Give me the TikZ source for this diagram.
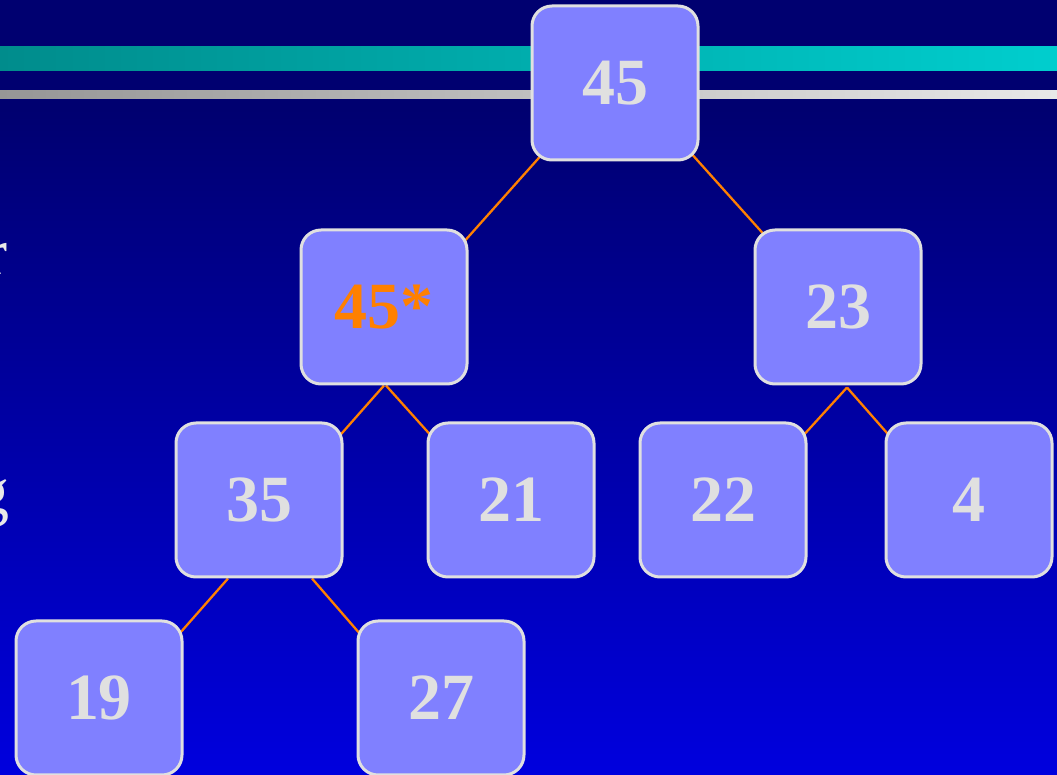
\documentclass[tikz,border=0pt]{standalone}
\usepackage{fontspec}
\setmainfont{Liberation Serif}
\usepackage{xcolor}

\definecolor{navy}{RGB}{0,0,112}
\definecolor{deepblue}{RGB}{0,0,222}
\definecolor{tealdark}{RGB}{0,140,140}
\definecolor{teallight}{RGB}{0,206,206}
\definecolor{greydark}{RGB}{150,150,150}
\definecolor{greylight}{RGB}{232,232,232}
\definecolor{keyfill}{RGB}{128,128,255}
\definecolor{keyline}{RGB}{224,224,224}
\definecolor{linkorange}{RGB}{255,128,0}

\pgfdeclarelayer{slide}
\pgfdeclarelayer{links}
\pgfsetlayers{slide,links,main}

\begin{document}
\begin{tikzpicture}[x=0.5pt,y=-0.5pt,
  keybox/.style={draw=keyline,line width=1.5pt,fill=keyfill,rounded corners=10pt,
    minimum width=83pt,minimum height=77pt,inner sep=0pt,text=keyline,
    font=\fontsize{33pt}{36pt}\selectfont\bfseries},
  link/.style={draw=linkorange,line width=1.15pt}]
\useasboundingbox (0,0) rectangle (1057,775);
\clip (0,0) rectangle (1057,775);
% slide background and header bars
\begin{pgfonlayer}{slide}
\fill[navy] (0,0) rectangle (1057,110);
\shade[top color=navy,bottom color=deepblue] (0,109) rectangle (1057,775);
\shade[left color=tealdark,right color=teallight] (0,47) rectangle (1057,71);
\shade[left color=greydark,right color=greylight] (0,91) rectangle (1057,99);
\end{pgfonlayer}
% text running off the left edge
\node[anchor=base east,inner sep=0pt,text=greylight,font=\fontsize{33pt}{36pt}\selectfont] (txtr) at (8,275) {r};
\node[anchor=base east,inner sep=0pt,text=greylight,font=\fontsize{33pt}{36pt}\selectfont] (txtg) at (10,514) {g};
% heap nodes
\node[keybox] (root) at (615,83) {45};
\node[keybox,text=linkorange] (left) at (384,307) {45*};
\node[keybox] (right) at (838,307) {23};
\node[keybox] (leftleft) at (259,500) {35};
\node[keybox] (leftright) at (511,500) {21};
\node[keybox] (rightleft) at (723,500) {22};
\node[keybox] (rightright) at (969,500) {4};
\node[keybox] (lll) at (99,698) {19};
\node[keybox] (llr) at (441,698) {27};
% links sit under the boxes
\begin{pgfonlayer}{links}
\draw[link] ([shift={(23,-20)}]root.south west) -- ([shift={(-15,25)}]left.north east);
\draw[link] ([shift={(-19,-20)}]root.south east) -- ([shift={(23,20)}]right.north west);
\draw[link] (left.south) -- ([shift={(-16,28)}]leftleft.north east);
\draw[link] ([shift={(2,0)}]left.south) -- ([shift={(17,28)}]leftright.north west);
\draw[link] ([shift={(9,2)}]right.south) -- ([shift={(-17,28)}]rightleft.north east);
\draw[link] ([shift={(9,2)}]right.south) -- ([shift={(17,28)}]rightright.north west);
\draw[link] ([shift={(-31,0)}]leftleft.south) -- ([shift={(-18,30)}]lll.north east);
\draw[link] ([shift={(53,0)}]leftleft.south) -- ([shift={(17,30)}]llr.north west);
\end{pgfonlayer}
\end{tikzpicture}
\end{document}
